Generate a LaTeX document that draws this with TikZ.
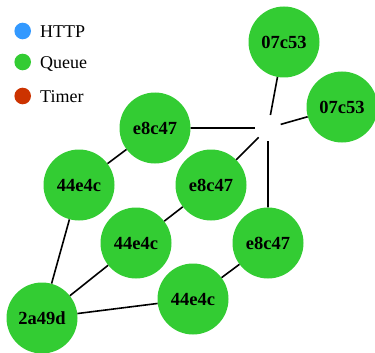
\documentclass[tikz,border=0pt]{standalone}
\usepackage{fontspec}
\setmainfont{Liberation Serif}
\definecolor{httpblue}{RGB}{51,153,255}
\definecolor{queuegreen}{RGB}{51,204,51}
\definecolor{timerred}{RGB}{204,51,0}
\begin{document}
\begin{tikzpicture}[x=1pt, y=-1pt,
  proc/.style={circle, fill=queuegreen, minimum size=71pt, inner sep=0pt,
    font=\fontsize{18.5}{20}\selectfont\bfseries},
  hubpt/.style={circle, minimum size=26pt, inner sep=0pt},
  link/.style={line width=1.6pt}]
 \useasboundingbox (0,0) rectangle (375,353);
 % legend
 \fill[httpblue] (22.7,31) circle (8.3);
 \fill[queuegreen] (22.7,62) circle (8.3);
 \fill[timerred] (22.7,96) circle (8.3);
 \node[font=\fontsize{18}{20}\selectfont, anchor=base west, inner sep=0pt] at (40,37.5) {HTTP};
 \node[font=\fontsize{18}{20}\selectfont, anchor=base west, inner sep=0pt] at (40,68.5) {Queue};
 \node[font=\fontsize{18}{20}\selectfont, anchor=base west, inner sep=0pt] at (40,102.5) {Timer};
 % nodes
 \node[hubpt] (hub) at (268,128) {};
 \node[proc] (topA) at (284,42) {07c53};
 \node[proc] (topB) at (342,107) {07c53};
 \node[proc] (e1) at (155,128) {e8c47};
 \node[proc] (e2) at (211,185) {e8c47};
 \node[proc] (e3) at (268,243) {e8c47};
 \node[proc] (f1) at (79,185) {44e4c};
 \node[proc] (f2) at (136,243) {44e4c};
 \node[proc] (f3) at (193,299) {44e4c};
 \node[proc] (root) at (42,318) {2a49d};
 % links
 \draw[link] (hub) -- (topA) (hub) -- (topB);
 \draw[link] (hub) -- (e1) (hub) -- (e2) (hub) -- (e3);
 \draw[link] (e1) -- (f1) (e2) -- (f2) (e3) -- (f3);
 \draw[link] (f1) -- (root) (f2) -- (root) (f3) -- (root);
\end{tikzpicture}
\end{document}
